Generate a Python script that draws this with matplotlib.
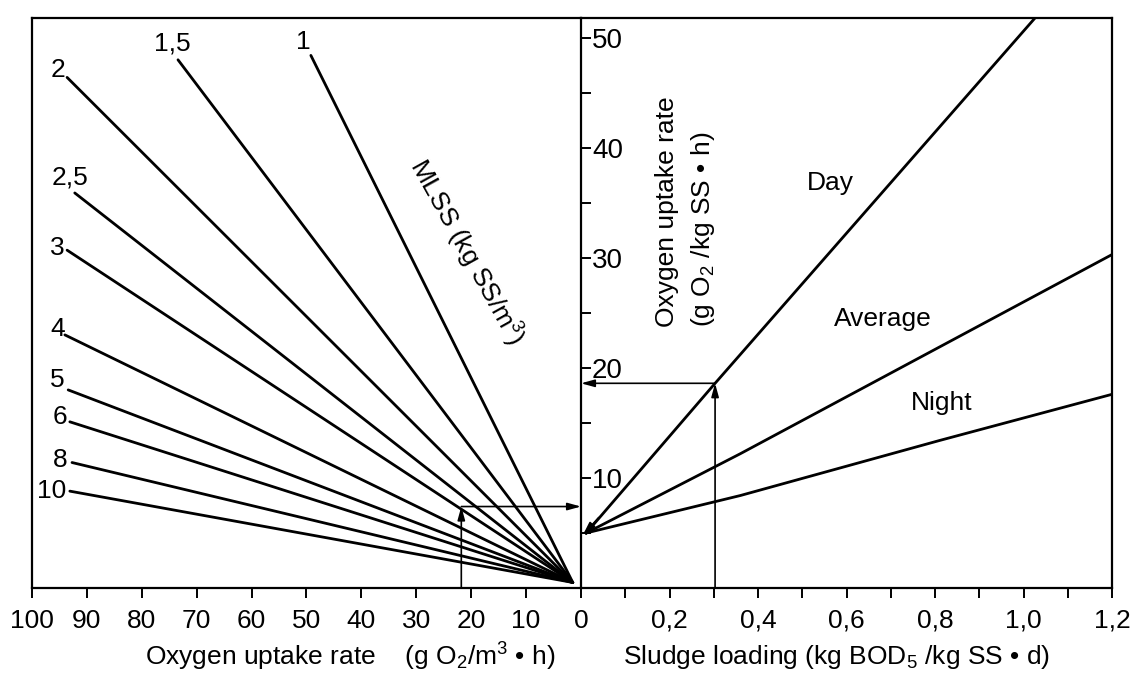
import matplotlib
matplotlib.use('Agg')
import matplotlib.pyplot as plt
from matplotlib.ticker import FixedLocator

plt.rcParams['font.family'] = ['Liberation Sans', 'DejaVu Sans']
plt.rcParams['mathtext.fontset'] = 'custom'
plt.rcParams['mathtext.rm'] = 'Liberation Sans'
plt.rcParams['mathtext.it'] = 'Liberation Sans:italic'

# left panel: MLSS lines (kg SS/m3), far end of each line
mlss = ['1', '1,5', '2', '2,5', '3', '4', '5', '6', '8', '10']
end_x = [49.2, 73.4, 93.6, 92.2, 93.6, 94.0, 93.4, 93.1, 92.7, 93.1]
end_y = [48.4, 48.0, 46.4, 35.9, 30.7, 23.0, 18.0, 15.1, 11.4, 8.8]
lab_x = [50.6, 74.5, 95.3, 93.1, 95.3, 95.4, 95.3, 94.9, 94.9, 96.4]
lab_y = [49.6, 49.5, 47.1, 37.3, 30.9, 23.5, 18.9, 15.5, 11.6, 8.8]
hub_x, hub_y = 1.5, 0.5

# right panel: sludge loading curves
day_x = [0.012, 0.303, 1.026]
day_y = [5.0, 18.6, 51.8]
avg_x = [0.012, 0.36, 1.2]
avg_y = [5.0, 12.2, 30.3]
night_x = [0.012, 0.36, 0.81, 1.2]
night_y = [5.0, 8.4, 13.4, 17.6]

# example reading shown with arrows
ex_load, ex_rate = 0.303, 18.6
ex_vol, ex_rate2 = 21.8, 7.4

left_ticks = list(range(0, 101, 10))
right_ticks = [0.2, 0.4, 0.6, 0.8, 1.0, 1.2]
right_labels = ['0,2', '0,4', '0,6', '0,8', '1,0', '1,2']
ymax = 51.8

fig = plt.figure(figsize=(11.41, 6.84), dpi=100)
ax1 = fig.add_axes([0.028, 0.1404, 0.4812, 0.8333])
ax2 = fig.add_axes([0.5092, 0.1404, 0.4654, 0.8333])
ax2.patch.set_visible(False)

for ax in (ax1, ax2):
    for s in ax.spines.values():
        s.set_linewidth(1.6)
ax2.spines['left'].set_visible(False)

# left panel
ax1.set_xlim(100, 0)
ax1.set_ylim(0, ymax)
for i in range(len(mlss)):
    ax1.plot([hub_x, end_x[i]], [hub_y, end_y[i]], color='black', lw=2.0,
             solid_capstyle='round')
    ax1.text(lab_x[i], lab_y[i], mlss[i], fontsize=19, ha='center', va='center')

ax1.text(20.8, 30.5, 'MLSS (kg SS/m$^3$)', rotation=-61, rotation_mode='anchor',
         ha='center', va='center', fontsize=19)

ax1.xaxis.set_major_locator(FixedLocator(left_ticks))
ax1.set_xticklabels([str(v) for v in left_ticks])
ax1.tick_params(axis='x', direction='out', length=7, width=1.4, pad=8, labelsize=19)

ax1.yaxis.tick_right()
ax1.yaxis.set_major_locator(FixedLocator([10, 20, 30, 40, 50]))
ax1.yaxis.set_minor_locator(FixedLocator([5, 15, 25, 35, 45]))
ax1.tick_params(axis='y', which='both', direction='out', length=7, width=1.4,
                pad=1, labelsize=20)

arr = dict(arrowstyle='-|>,head_length=0.8,head_width=0.22', lw=1.2,
           color='black', shrinkA=0, shrinkB=0)
ax1.annotate('', xy=(ex_vol, ex_rate2), xytext=(ex_vol, 0), arrowprops=arr)
ax1.annotate('', xy=(0, ex_rate2), xytext=(ex_vol, ex_rate2), arrowprops=arr)

# right panel
ax2.set_xlim(0, 1.2)
ax2.set_ylim(0, ymax)
ax2.plot(day_x, day_y, color='black', lw=2.0)
ax2.plot(avg_x, avg_y, color='black', lw=2.0)
ax2.plot(night_x, night_y, color='black', lw=2.0)
ax2.annotate('', xy=(0.004, 4.8), xytext=(0.04, 6.4), arrowprops=arr)

ax2.annotate('', xy=(ex_load, ex_rate), xytext=(ex_load, 0), arrowprops=arr)
ax2.annotate('', xy=(0, ex_rate), xytext=(ex_load, ex_rate), arrowprops=arr)

ax2.text(0.563, 36.8, 'Day', fontsize=19, ha='center', va='center')
ax2.text(0.682, 24.4, 'Average', fontsize=19, ha='center', va='center')
ax2.text(0.816, 16.8, 'Night', fontsize=19, ha='center', va='center')

ax2.text(0.194, 23.7, 'Oxygen uptake rate', rotation=90, fontsize=19,
         ha='center', va='bottom')
ax2.text(0.276, 23.7, '(g O$_2$ /kg SS \u2022 h)', rotation=90, fontsize=19,
         ha='center', va='bottom')

ax2.set_yticks([])
ax2.xaxis.set_major_locator(FixedLocator(right_ticks))
ax2.xaxis.set_minor_locator(FixedLocator([0.1, 0.3, 0.5, 0.7, 0.9, 1.1]))
ax2.set_xticklabels(right_labels)
ax2.tick_params(axis='x', which='both', direction='out', length=7, width=1.4,
                pad=8, labelsize=19)

fig.text(0.307, 0.0395, 'Oxygen uptake rate    (g O$_2$/m$^3$ \u2022 h)',
         fontsize=19, ha='center', va='center')
fig.text(0.733, 0.0395, 'Sludge loading (kg BOD$_5$ /kg SS \u2022 d)',
         fontsize=19, ha='center', va='center')

fig.savefig('out.png', dpi=100)
